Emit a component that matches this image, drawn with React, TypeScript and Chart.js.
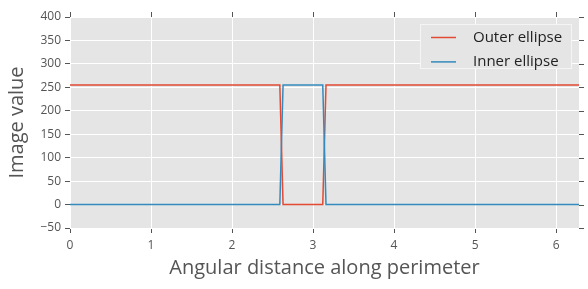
import React, { useEffect, useRef } from "react";
import { Chart, registerables } from "chart.js";

Chart.register(...registerables);

// ---- data ----
const outerX = [0, 2.59, 2.63, 3.12, 3.16, 6.283];
const outerY = [255, 255, 0, 0, 255, 255];
const innerX = [0, 2.59, 2.63, 3.12, 3.16, 6.283];
const innerY = [0, 0, 255, 255, 0, 0];
const seriesLabels = ["Outer ellipse", "Inner ellipse"];
const seriesColors = ["#E24A33", "#348ABD"];
const xTickValues = [0, 1, 2, 3, 4, 5, 6];
const yTickValues = [-50, 0, 50, 100, 150, 200, 250, 300, 350, 400];
const xMin = 0;
const xMax = 6.283;
const yMin = -50;
const yMax = 400;
const xTitle = "Angular distance along perimeter";
const yTitle = "Image value";

const FONT = "'Open Sans', 'DejaVu Sans', sans-serif";
const TEXT = "#555555";
const BG = "#E5E5E5";

const fmt = (v: number) => (v < 0 ? "\u2212" + Math.abs(v) : String(v));

const bgPlugin = {
  id: "bgPlugin",
  beforeDraw(chart: any) {
    const { ctx, chartArea } = chart;
    ctx.save();
    ctx.fillStyle = BG;
    ctx.fillRect(chartArea.left, chartArea.top, chartArea.right - chartArea.left, chartArea.bottom - chartArea.top);
    ctx.restore();
  },
};

const mirrorTicksPlugin = {
  id: "mirrorTicks",
  afterDraw(chart: any) {
    const { ctx, chartArea, scales } = chart;
    ctx.save();
    ctx.strokeStyle = TEXT;
    ctx.lineWidth = 1;
    ctx.beginPath();
    for (const t of scales.x.ticks) {
      const px = Math.round(scales.x.getPixelForValue(t.value)) + 0.5;
      ctx.moveTo(px, chartArea.top);
      ctx.lineTo(px, chartArea.top - 5);
    }
    for (const t of scales.y.ticks) {
      const py = Math.round(scales.y.getPixelForValue(t.value)) + 0.5;
      ctx.moveTo(chartArea.right, py);
      ctx.lineTo(chartArea.right + 5, py);
    }
    ctx.stroke();
    ctx.restore();
  },
};

const legendPlugin = {
  id: "boxLegend",
  afterDraw(chart: any) {
    const { ctx, chartArea } = chart;
    const w = 152;
    const h = 45;
    const x0 = chartArea.right - 7 - w;
    const y0 = chartArea.top + 7;
    ctx.save();
    ctx.fillStyle = BG;
    ctx.fillRect(x0, y0, w, h);
    ctx.strokeStyle = "#F5F5F5";
    ctx.lineWidth = 1;
    ctx.strokeRect(x0 + 0.5, y0 + 0.5, w - 1, h - 1);
    ctx.font = `15px ${FONT}`;
    ctx.textBaseline = "middle";
    ctx.textAlign = "left";
    chart.data.datasets.forEach((ds: any, i: number) => {
      const cy = y0 + 13.5 + i * 24.4;
      ctx.strokeStyle = ds.borderColor;
      ctx.lineWidth = 1.5;
      ctx.beginPath();
      ctx.moveTo(x0 + 11, cy);
      ctx.lineTo(x0 + 36, cy);
      ctx.stroke();
      ctx.fillStyle = "#222222";
      ctx.fillText(ds.label, x0 + 53, cy);
    });
    ctx.restore();
  },
};

function toPoints(xs: number[], ys: number[]) {
  return xs.map((x, i) => ({ x, y: ys[i] }));
}

export default function App() {
  const ref = useRef<HTMLCanvasElement | null>(null);

  useEffect(() => {
    if (!ref.current) return;
    const chart = new Chart(ref.current, {
      type: "line",
      data: {
        datasets: [
          {
            label: seriesLabels[0],
            data: toPoints(outerX, outerY),
            borderColor: seriesColors[0],
            backgroundColor: seriesColors[0],
            borderWidth: 1.5,
            pointRadius: 0,
            tension: 0,
            order: 1,
          },
          {
            label: seriesLabels[1],
            data: toPoints(innerX, innerY),
            borderColor: seriesColors[1],
            backgroundColor: seriesColors[1],
            borderWidth: 1.5,
            pointRadius: 0,
            tension: 0,
            order: 0,
          },
        ],
      },
      options: {
        responsive: false,
        animation: false,
        devicePixelRatio: 1,
        layout: { padding: { left: 0, top: 17, right: 9, bottom: 0 } },
        plugins: {
          legend: { display: false },
          tooltip: { enabled: false },
        },
        scales: {
          x: {
            type: "linear",
            min: xMin,
            max: xMax,
            afterBuildTicks(scale: any) {
              scale.ticks = xTickValues.map((v) => ({ value: v }));
            },
            afterFit(scale: any) {
              scale.height = 61;
            },
            grid: {
              color: "#FFFFFF",
              lineWidth: 1,
              tickColor: TEXT,
              tickLength: 5,
              drawTicks: true,
            },
            border: { display: false },
            ticks: {
              color: TEXT,
              font: { family: FONT, size: 12 },
              padding: 5,
              maxRotation: 0,
              callback: (v: any) => fmt(Number(v)),
            },
            title: {
              display: true,
              text: xTitle,
              color: TEXT,
              font: { family: FONT, size: 20 },
              padding: { top: 0, bottom: 9 },
            },
          },
          y: {
            type: "linear",
            min: yMin,
            max: yMax,
            afterBuildTicks(scale: any) {
              scale.ticks = yTickValues.map((v) => ({ value: v }));
            },
            afterFit(scale: any) {
              scale.width = 70;
            },
            grid: {
              color: "#FFFFFF",
              lineWidth: 1,
              tickColor: TEXT,
              tickLength: 5,
              drawTicks: true,
            },
            border: { display: false },
            ticks: {
              color: TEXT,
              font: { family: FONT, size: 12 },
              padding: 4,
              callback: (v: any) => fmt(Number(v)),
            },
            title: {
              display: true,
              text: yTitle,
              color: TEXT,
              font: { family: FONT, size: 20 },
              padding: { top: 5, bottom: 0 },
            },
          },
        },
      },
      plugins: [bgPlugin, mirrorTicksPlugin, legendPlugin],
    } as any);
    return () => chart.destroy();
  }, []);

  return (
    <div style={{ position: "absolute", left: 0, top: 0, width: 588, height: 289 }}>
      <canvas ref={ref} width={588} height={289} style={{ display: "block", width: 588, height: 289 }} />
    </div>
  );
}
